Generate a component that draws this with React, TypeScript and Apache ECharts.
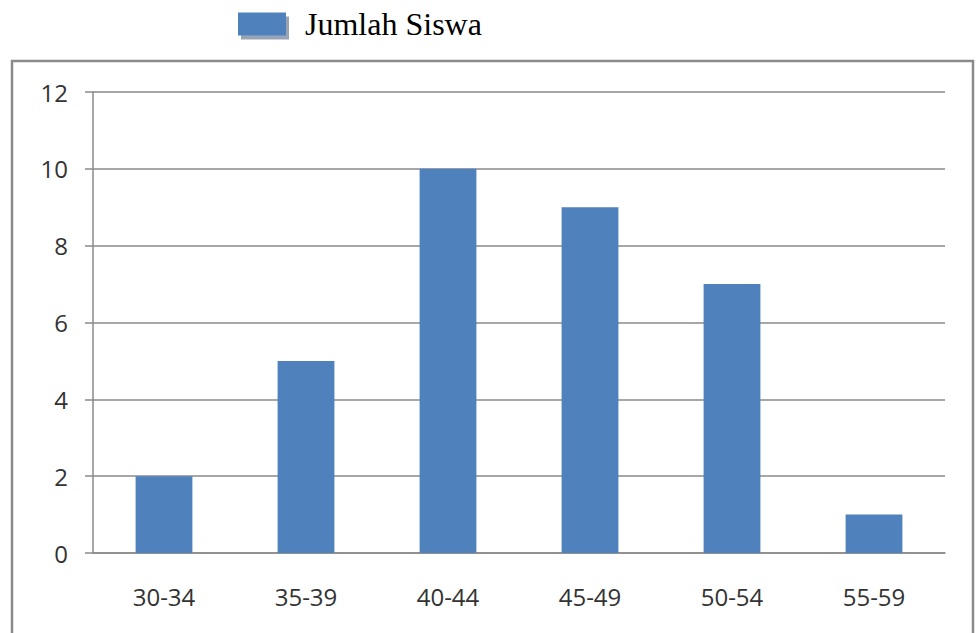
import React, { useEffect, useRef } from "react";
import * as echarts from "echarts";

const categories = ["30-34", "35-39", "40-44", "45-49", "50-54", "55-59"];
const jumlahSiswa = [2, 5, 10, 9, 7, 1];
const seriesName = "Jumlah Siswa";

export default function App() {
  const ref = useRef<HTMLDivElement>(null);
  useEffect(() => {
    if (!ref.current) return;
    const chart = echarts.init(ref.current, undefined, { renderer: "svg" });
    const axisColor = "#8a8a8a";
    const labelFont = { fontFamily: "Open Sans", fontSize: 24, color: "#333" };
    chart.setOption({
      animation: false,
      backgroundColor: "#fff",
      graphic: [
        {
          type: "rect",
          shape: { x: 12, y: 61, width: 961, height: 640 },
          style: { fill: "none", stroke: axisColor, lineWidth: 2.5 },
          silent: true,
          z: -1,
        },
      ],
      legend: {
        left: 238,
        top: 8,
        padding: 0,
        itemWidth: 48,
        itemHeight: 23,
        icon: "rect",
        data: [seriesName],
        itemStyle: {
          shadowColor: "#98a4b6",
          shadowBlur: 0,
          shadowOffsetX: 3,
          shadowOffsetY: 4,
        },
        textStyle: {
          fontFamily: "Liberation Serif",
          fontSize: 32,
          color: "#000",
          padding: [0, 0, 0, 14],
        },
      },
      grid: { left: 93, right: 33, top: 92, bottom: 80 },
      xAxis: {
        type: "category",
        data: categories,
        axisLine: { lineStyle: { color: axisColor, width: 1.5 } },
        axisTick: { length: 8, lineStyle: { color: axisColor, width: 1.5 } },
        axisLabel: { ...labelFont, margin: 31 },
      },
      yAxis: {
        type: "value",
        min: 0,
        max: 12,
        interval: 2,
        axisLine: { show: true, lineStyle: { color: axisColor, width: 1.5 } },
        axisTick: { show: true, length: 8, lineStyle: { color: axisColor, width: 1.5 } },
        axisLabel: { ...labelFont, margin: 25 },
        splitLine: { lineStyle: { color: axisColor, width: 1.5 } },
      },
      series: [
        {
          name: seriesName,
          type: "bar",
          data: jumlahSiswa,
          barWidth: "40%",
          itemStyle: { color: "#4f81bd" },
        },
      ],
    });
    return () => chart.dispose();
  }, []);
  return (
    <div
      ref={ref}
      style={{ position: "fixed", left: 0, top: 0, width: 978, height: 633 }}
    />
  );
}
